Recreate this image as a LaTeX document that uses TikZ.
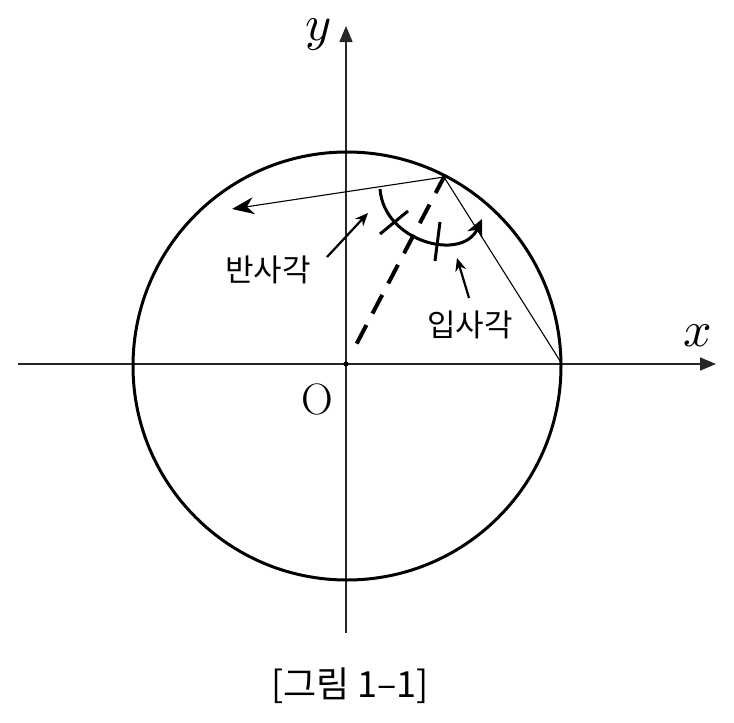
\documentclass[tikz,border=0pt]{standalone}
\usepackage{graphicx}
\usepackage{fontspec}
\newfontfamily\kr{Noto Sans CJK KR}
\usetikzlibrary{arrows.meta}
\begin{document}
\begin{tikzpicture}[x=1pt,y=-1pt,
  axisline/.style={line width=1.5pt,draw=black!85,-{Triangle[length=16pt,width=13pt]}},
  circ/.style={line width=3pt},
  ray/.style={line width=1.1pt},
  thick3/.style={line width=3pt},
  lblarrow/.style={line width=2.2pt,-{Stealth[length=13pt,width=11pt]}},
  krtext/.style={font=\kr\fontsize{31}{36}\selectfont,inner sep=0pt},
  mathlbl/.style={inner sep=0pt}
]
\useasboundingbox (0,0) rectangle (734,723);
\coordinate (O) at (346,364);
\coordinate (C) at (347,366);
\coordinate (xL) at (18,364);
\coordinate (xR) at (716,364);
\coordinate (yB) at (346,633);
\coordinate (yT) at (346,26);
\coordinate (P) at (444,177);
\coordinate (Q) at (562,364);
\coordinate (R) at (232,209);
% axes
\draw[axisline] (xL) -- (xR);
\draw[axisline] (yB) -- (yT);
% circle
\draw[circ] (C) circle[radius=214];
% rays
\draw[ray] (Q) -- (P);
\draw[ray,-{Stealth[length=22pt,width=17pt,inset=7pt]}] (P) -- (R);
% normal (dashed)
\fill (O) circle[radius=2.6];
\draw[line width=4pt,dash pattern=on 21pt off 13pt,shorten <=23pt] (O) -- (P);
% angle arc
\coordinate (a1) at (380,189);
\coordinate (a2) at (482,219);
\draw[thick3,-{Stealth[length=17pt,width=16pt,inset=5pt]}] (a1) .. controls (384,242) and (462,262) .. (a2);
% ticks
\coordinate (t1a) at (408,211);
\coordinate (t1b) at (380,234);
\coordinate (t2a) at (440,222);
\coordinate (t2b) at (435,261);
\draw[thick3] (t1a) -- (t1b);
\draw[thick3] (t2a) -- (t2b);
% labels
\node[krtext] (refl) at (268,270) {반사각};
\node[krtext] (inc) at (470,325) {입사각};
\coordinate (ra1) at (327,257);
\coordinate (ra2) at (368,213);
\coordinate (ia1) at (469,298);
\coordinate (ia2) at (457,258);
\draw[lblarrow] (ra1) -- (ra2);
\draw[lblarrow] (ia1) -- (ia2);
\node[font=\fontsize{44}{50}\selectfont,inner sep=0pt] (ol) at (317,399) {O};
\node[mathlbl] (xl) at (698,336) {\scalebox{5}{$x$}};
\node[mathlbl] (yl) at (319,35) {\scalebox{5}{$y$}};
\node[font=\kr\fontsize{36}{42}\selectfont,inner sep=0pt] (cap) at (350,686) {[그림 1–1]};
\end{tikzpicture}
\end{document}
